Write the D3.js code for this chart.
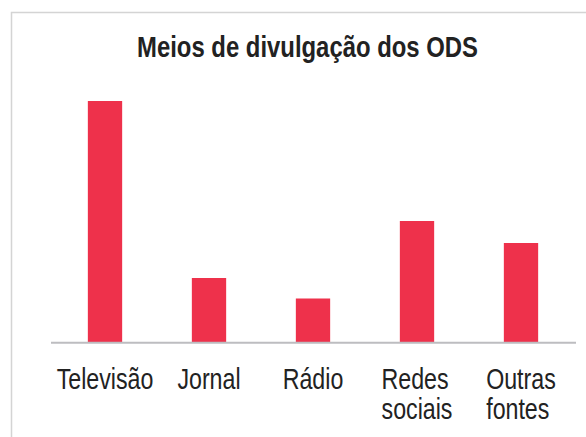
<!DOCTYPE html>
<html>
<head>
<meta charset="utf-8">
<script src="https://cdn.jsdelivr.net/npm/d3@7"></script>
<style>
  body { margin: 0; background: #fff; }
  text { font-family: "Liberation Sans", Arial, sans-serif; fill: #222; }
</style>
</head>
<body>
<div id="chart"></div>
<script>
const WIDTH = 586
const HEIGHT = 437

// données
const categories = ["Televisão", "Jornal", "Rádio", "Redes sociais", "Outras fontes"]
const values = [48.2, 12.8, 8.7, 24.2, 19.8]
const title = "Meios de divulgação dos ODS"

const svg = d3.select("#chart")
    .append("svg")
    .attr("width", WIDTH)
    .attr("height", HEIGHT)

// cadre
svg.append("path")
    .attr("d", "M11.5,437 V12.5 H586")
    .attr("fill", "none")
    .attr("stroke", "#d4d4d4")
    .attr("stroke-width", 1.5)

// titre (police étroite -> textLength)
svg.append("text")
    .attr("x", 137)
    .attr("y", 57)
    .attr("font-size", 29)
    .attr("font-weight", "bold")
    .attr("textLength", 341)
    .attr("lengthAdjust", "spacingAndGlyphs")
    .text(title)

const x = d3.scaleBand()
    .domain(categories)
    .range([53, 573])
    .paddingInner(0.67)
    .paddingOuter(0.335)

const y = d3.scaleLinear()
    .domain([0, 50])
    .range([342, 92])

svg.append("g")
    .selectAll("rect")
    .data(values)
    .enter()
    .append("rect")
    .attr("x", (d, i) => x(categories[i]))
    .attr("y", d => y(d))
    .attr("width", x.bandwidth())
    .attr("height", d => y(0) - y(d))
    .attr("fill", "#ee314b")

// axe
svg.append("line")
    .attr("x1", 51)
    .attr("x2", 576)
    .attr("y1", 342.8)
    .attr("y2", 342.8)
    .attr("stroke", "#bdbdc0")
    .attr("stroke-width", 2)

// labels : police étroite simulée avec scale(0.8, 1), lignes alignées à gauche
const SX = 0.8
const labels = svg.append("g")
    .selectAll("text")
    .data(categories)
    .enter()
    .append("text")
    .attr("font-size", 29)

labels.each(function (d) {
    const t = d3.select(this)
    t.selectAll("tspan")
        .data(d.split(" "))
        .enter()
        .append("tspan")
        .attr("x", 0)
        .attr("dy", (w, i) => i === 0 ? 0 : 30)
        .text(w => w)
    const w = this.getBBox().width * SX
    const cx = x(d) + x.bandwidth() / 2
    t.attr("transform", `translate(${cx - w / 2},389) scale(${SX},1)`)
})
</script>
</body>
</html>
